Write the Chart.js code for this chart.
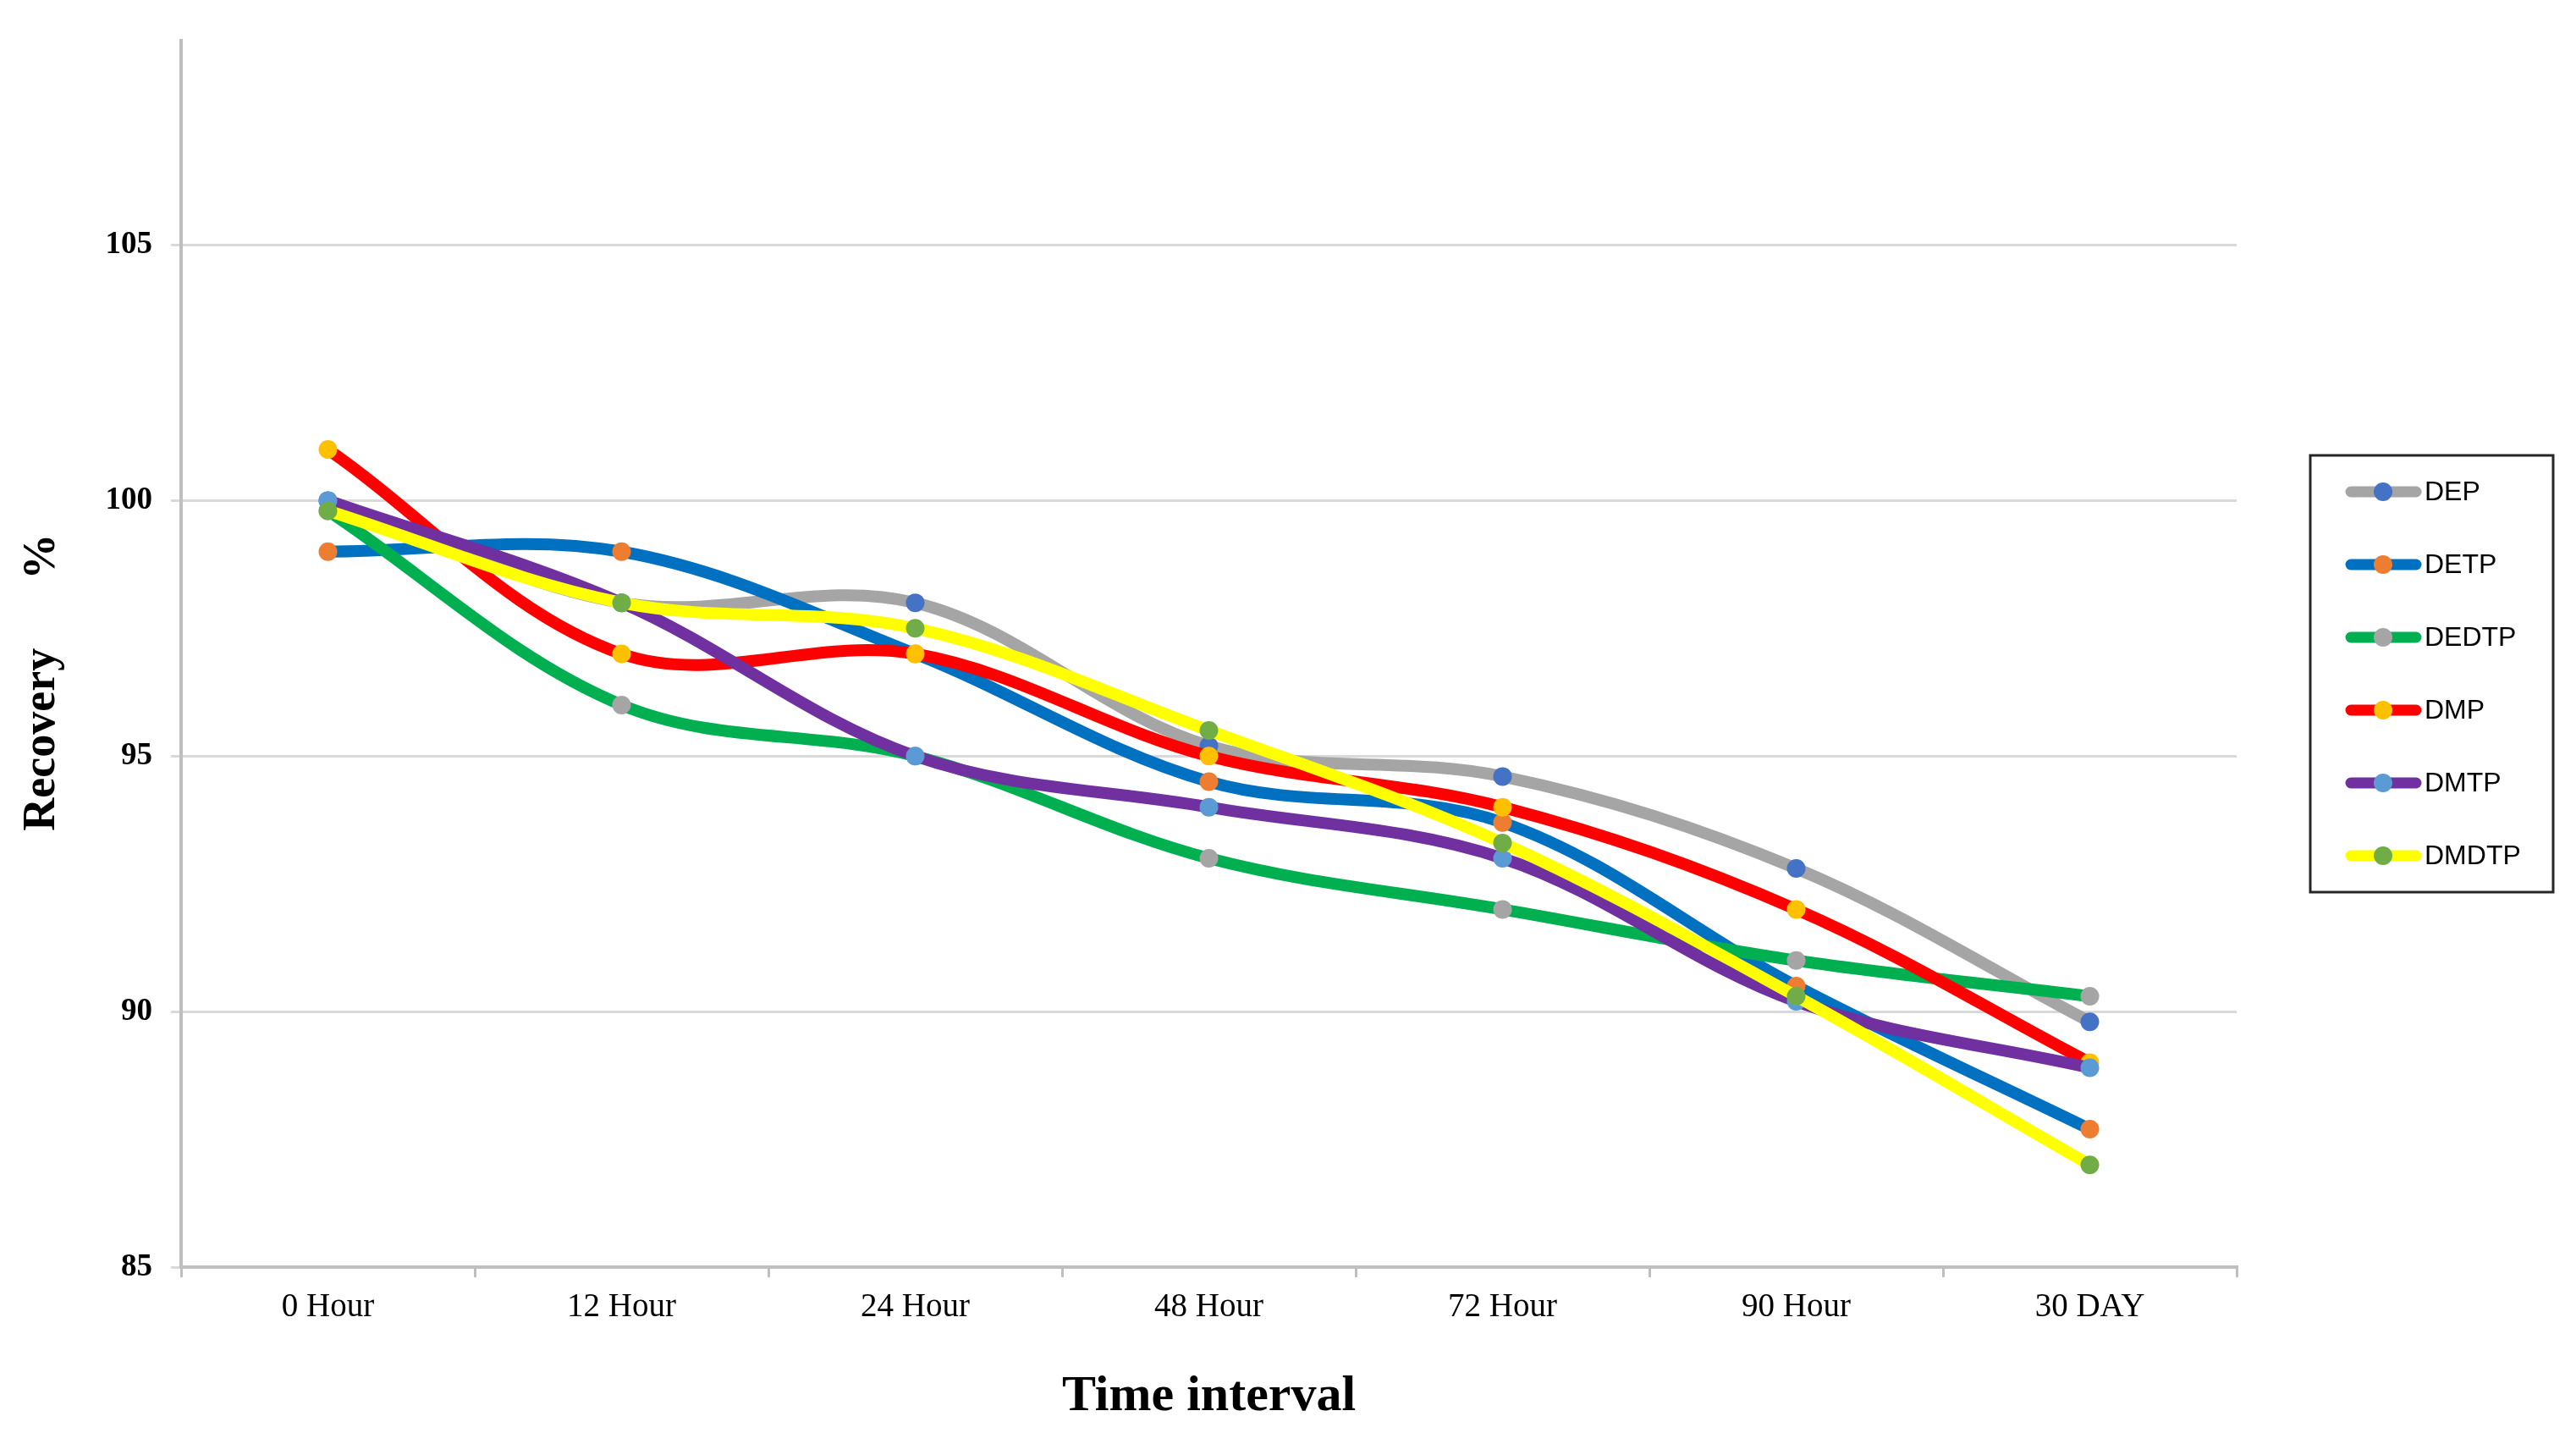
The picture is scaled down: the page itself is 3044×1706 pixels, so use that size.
<!DOCTYPE html>
<html>
<head>
<meta charset="utf-8">
<script src="https://cdn.jsdelivr.net/npm/chart.js@4.4.1/dist/chart.umd.min.js"></script>
<style>
  html, body { margin: 0; padding: 0; background: #ffffff; }
  #wrap { width: 3044px; height: 1706px; }
</style>
</head>
<body>
<div id="wrap"><canvas id="recovery-chart" width="3044" height="1706"></canvas></div>
<script>
// Recovery % over time, six series
const categories = ["0 Hour", "12 Hour", "24 Hour", "48 Hour", "72 Hour", "90 Hour", "30 DAY"];
const seriesNames = ["DEP", "DETP", "DEDTP", "DMP", "DMTP", "DMDTP"];

const depValues   = [100, 98, 98, 95.2, 94.6, 92.8, 89.8];
const detpValues  = [99, 99, 97, 94.5, 93.7, 90.5, 87.7];
const dedtpValues = [99.8, 96, 95, 93, 92, 91, 90.3];
const dmpValues   = [101, 97, 97, 95, 94, 92, 89];
const dmtpValues  = [100, 98, 95, 94, 93, 90.2, 88.9];
const dmdtpValues = [99.8, 98, 97.5, 95.5, 93.3, 90.3, 87];

const lineColors   = ["#A5A5A5", "#0070C0", "#00B050", "#FF0000", "#7030A0", "#FFFF00"];
const markerColors = ["#4472C4", "#ED7D31", "#A5A5A5", "#FFC000", "#5B9BD5", "#70AD47"];

const yMin = 85;
const yMax = 109;
const yStep = 5;

const allValues = [depValues, detpValues, dedtpValues, dmpValues, dmtpValues, dmdtpValues];

const datasets = seriesNames.map((name, i) => ({
  label: name,
  data: allValues[i],
  borderColor: lineColors[i],
  backgroundColor: markerColors[i],
  pointBackgroundColor: markerColors[i],
  pointBorderWidth: 0,
  pointRadius: 11,
  borderWidth: 14,
  borderCapStyle: "round",
  tension: 0.35,
  fill: false,
  order: seriesNames.length - i, // later series on top, like the original
}));

// Legend in a framed box on the right: line with marker, then the name
const boxLegend = {
  id: "boxLegend",
  afterDraw(chart) {
    const ctx = chart.ctx;
    const boxX = 2730, boxY = 538, boxW = 287, boxH = 516;
    ctx.save();
    ctx.strokeStyle = "#262626";
    ctx.lineWidth = 3;
    ctx.strokeRect(boxX, boxY, boxW, boxH);

    chart.data.datasets.forEach((ds, i) => {
      const y = 581 + i * 86;
      ctx.strokeStyle = ds.borderColor;
      ctx.lineWidth = 13;
      ctx.lineCap = "round";
      ctx.beginPath();
      ctx.moveTo(2778, y);
      ctx.lineTo(2855, y);
      ctx.stroke();

      ctx.fillStyle = ds.pointBackgroundColor;
      ctx.beginPath();
      ctx.arc(2816, y, 11, 0, Math.PI * 2);
      ctx.fill();

      ctx.fillStyle = "#000000";
      ctx.font = "32px 'Liberation Sans', Arial, sans-serif";
      ctx.textBaseline = "middle";
      ctx.textAlign = "left";
      ctx.fillText(ds.label, 2865, y + 1);
    });
    ctx.restore();
  },
};

const ctx = document.getElementById("recovery-chart").getContext("2d");
const chart = new Chart(ctx, {
  type: "line",
  data: { labels: categories, datasets },
  plugins: [boxLegend],
  options: {
    responsive: false,
    devicePixelRatio: 1,
    animation: false,
    layout: { padding: { top: 48, right: 401, left: 0, bottom: 0 } },
    plugins: {
      legend: { display: false },
      tooltip: { enabled: false },
    },
    scales: {
      x: {
        type: "category",
        offset: true,
        afterFit: (scale) => { scale.height = 209; },
        grid: {
          offset: true,
          drawOnChartArea: false,
          drawTicks: true,
          tickLength: 12,
          color: "#BFBFBF",
          lineWidth: 3,
        },
        border: { color: "#BFBFBF", width: 4 },
        ticks: {
          color: "#000000",
          padding: 12,
          maxRotation: 0,
          font: { family: "'Liberation Serif', 'Times New Roman', serif", size: 39 },
        },
        title: {
          display: true,
          text: "Time interval",
          color: "#000000",
          padding: { top: 0, bottom: 20 },
          font: { family: "'Liberation Serif', 'Times New Roman', serif", size: 60, weight: "bold" },
        },
      },
      y: {
        min: yMin,
        max: yMax,
        afterFit: (scale) => { scale.width = 214; },
        afterBuildTicks: (scale) => {
          scale.ticks = scale.ticks.filter((t) => t.value % yStep === 0);
        },
        grid: {
          color: "#D9D9D9",
          lineWidth: 3,
          drawTicks: true,
          tickLength: 12,
        },
        border: { color: "#BFBFBF", width: 4 },
        ticks: {
          stepSize: yStep,
          color: "#000000",
          padding: 22,
          font: { family: "'Liberation Serif', 'Times New Roman', serif", size: 37, weight: "bold" },
        },
        title: {
          display: true,
          // trailing spaces push the visible text a little below the axis centre, as in the original
          text: "Recovery\u00a0\u00a0\u00a0\u00a0\u00a0\u00a0%\u00a0\u00a0\u00a0\u00a0\u00a0",
          color: "#000000",
          padding: { top: 18, bottom: 0 },
          font: { family: "'Liberation Serif', 'Times New Roman', serif", size: 54, weight: "bold" },
        },
      },
    },
  },
});
</script>
</body>
</html>
